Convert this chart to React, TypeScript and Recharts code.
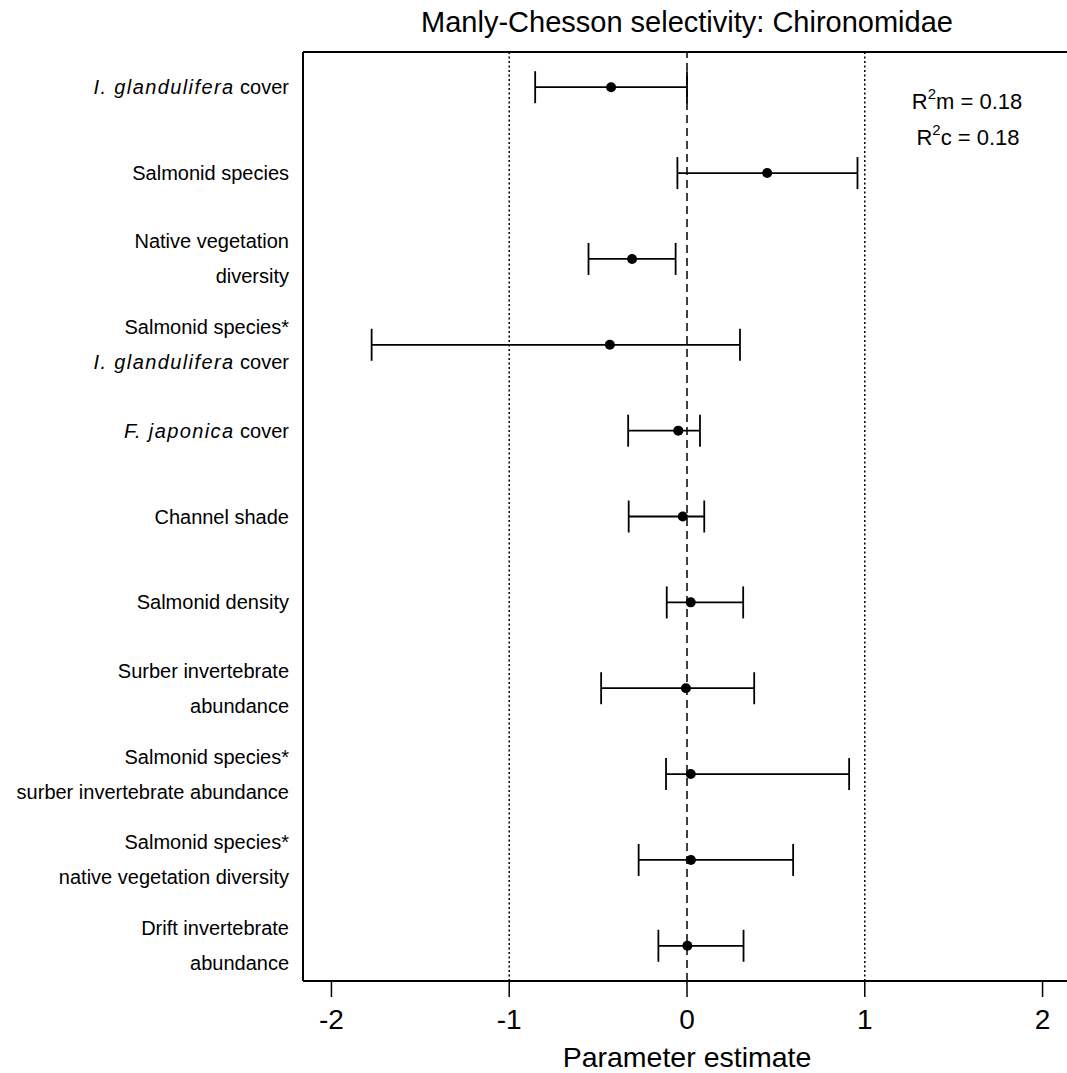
import React from "react";
import {
  ScatterChart,
  Scatter,
  XAxis,
  YAxis,
  ErrorBar,
  ReferenceLine,
  Customized,
} from "recharts";

// ---- data ----
const rowIndex = [1, 2, 3, 4, 5, 6, 7, 8, 9, 10, 11];
const labelLines: string[][] = [
  ["_I. glandulifera_ cover"],
  ["Salmonid species"],
  ["Native vegetation", "diversity"],
  ["Salmonid species*", "_I. glandulifera_ cover"],
  ["_F. japonica_ cover"],
  ["Channel shade"],
  ["Salmonid density"],
  ["Surber invertebrate", "abundance"],
  ["Salmonid species*", "surber invertebrate abundance"],
  ["Salmonid species*", "native vegetation diversity"],
  ["Drift invertebrate", "abundance"],
];
const estimates = [-0.427, 0.451, -0.309, -0.434, -0.049, -0.024, 0.021, -0.006, 0.021, 0.022, 0.002];
const lowerCI = [-0.854, -0.054, -0.554, -1.774, -0.331, -0.328, -0.114, -0.483, -0.118, -0.272, -0.161];
const upperCI = [0.0, 0.959, -0.064, 0.298, 0.073, 0.097, 0.316, 0.378, 0.912, 0.597, 0.318];
const xTicks = [-2, -1, 0, 1, 2];
const refLinesDotted = [-1, 1];
const refLineDashed = 0;
const titleText = "Manly-Chesson selectivity: Chironomidae";
const xAxisTitle = "Parameter estimate";
const r2m = "0.18";
const r2c = "0.18";

const X_DOMAIN: [number, number] = [-2.16, 2.16];
const Y_DOMAIN: [number, number] = [0.59, 11.41];

const data = rowIndex.map((r, i) => ({
  row: r,
  est: estimates[i],
  err: [estimates[i] - lowerCI[i], upperCI[i] - estimates[i]],
}));

const FONT = "'Liberation Sans', Arial, Helvetica, sans-serif";

function renderLine(line: string, key: number, x: number, y: number) {
  const parts = line.split("_");
  return (
    <text
      key={key}
      x={x}
      y={y}
      textAnchor="end"
      dominantBaseline="central"
      fontFamily={FONT}
      fontSize={20}
      fill="#000"
    >
      {parts.map((p, j) =>
        p.length === 0 ? null : j % 2 === 1 ? (
          <tspan key={j} fontStyle="italic" letterSpacing={1.4}>
            {p}
          </tspan>
        ) : (
          <tspan key={j} letterSpacing={0}>
            {p}
          </tspan>
        )
      )}
    </text>
  );
}

const YTick = (props: any) => {
  const { x, y, payload } = props;
  const idx = Math.round(payload.value) - 1;
  const lines = labelLines[idx] || [];
  const gap = 35;
  return (
    <g>
      {lines.map((ln, i) =>
        renderLine(ln, i, x, y + (i - (lines.length - 1) / 2) * gap)
      )}
    </g>
  );
};

const Dot = (props: any) => {
  const { cx, cy } = props;
  return <circle cx={cx} cy={cy} r={5} fill="#000" />;
};

const Texts = () => (
  <g fontFamily={FONT} fill="#000">
    <text x={687} y={22} textAnchor="middle" dominantBaseline="central" fontSize={29}>
      {titleText}
    </text>
    <text x={687} y={1057} textAnchor="middle" dominantBaseline="central" fontSize={28.5}>
      {xAxisTitle}
    </text>
    <text x={967} y={101} textAnchor="middle" dominantBaseline="central" fontSize={22}>
      R<tspan dy={-8} fontSize={15}>2</tspan>
      <tspan dy={8}>m = {r2m}</tspan>
    </text>
    <text x={968} y={137} textAnchor="middle" dominantBaseline="central" fontSize={22}>
      R<tspan dy={-8} fontSize={15}>2</tspan>
      <tspan dy={8}>c = {r2c}</tspan>
    </text>
  </g>
);

export default function App() {
  return (
    <div
      style={{
        position: "fixed",
        left: 0,
        top: 0,
        width: 1067,
        height: 1073,
        overflow: "hidden",
        background: "#fff",
      }}
    >
      <ScatterChart
        width={1080}
        height={1073}
        margin={{ top: 52, right: 9, left: 0, bottom: 0 }}
      >
        <XAxis
          type="number"
          dataKey="est"
          domain={X_DOMAIN}
          ticks={xTicks}
          allowDataOverflow
          height={92}
          tickSize={16}
          tickMargin={12}
          axisLine={{ stroke: "#000", strokeWidth: 2 }}
          tickLine={{ stroke: "#000", strokeWidth: 1.5 }}
          tick={{ fill: "#000", fontSize: 28, fontFamily: FONT }}
        />
        <YAxis
          type="number"
          dataKey="row"
          domain={Y_DOMAIN}
          ticks={rowIndex}
          reversed
          allowDataOverflow
          width={303}
          tickSize={0}
          tickMargin={14}
          tickLine={false}
          axisLine={{ stroke: "#000", strokeWidth: 2 }}
          tick={<YTick />}
          interval={0}
        />
        <ReferenceLine y={Y_DOMAIN[0]} stroke="#000" strokeWidth={2} />
        <ReferenceLine x={X_DOMAIN[1]} stroke="#000" strokeWidth={2} />
        {refLinesDotted.map((v) => (
          <ReferenceLine key={v} x={v} stroke="#000" strokeWidth={1.5} strokeDasharray="2 2.5" />
        ))}
        <ReferenceLine x={refLineDashed} stroke="#000" strokeWidth={1.5} strokeDasharray="8 5" />
        <Scatter data={data} shape={<Dot />} isAnimationActive={false}>
          <ErrorBar
            dataKey="err"
            direction="x"
            width={16}
            stroke="#000"
            strokeWidth={1.8}
            isAnimationActive={false}
          />
        </Scatter>
        <Customized component={Texts} />
      </ScatterChart>
    </div>
  );
}
